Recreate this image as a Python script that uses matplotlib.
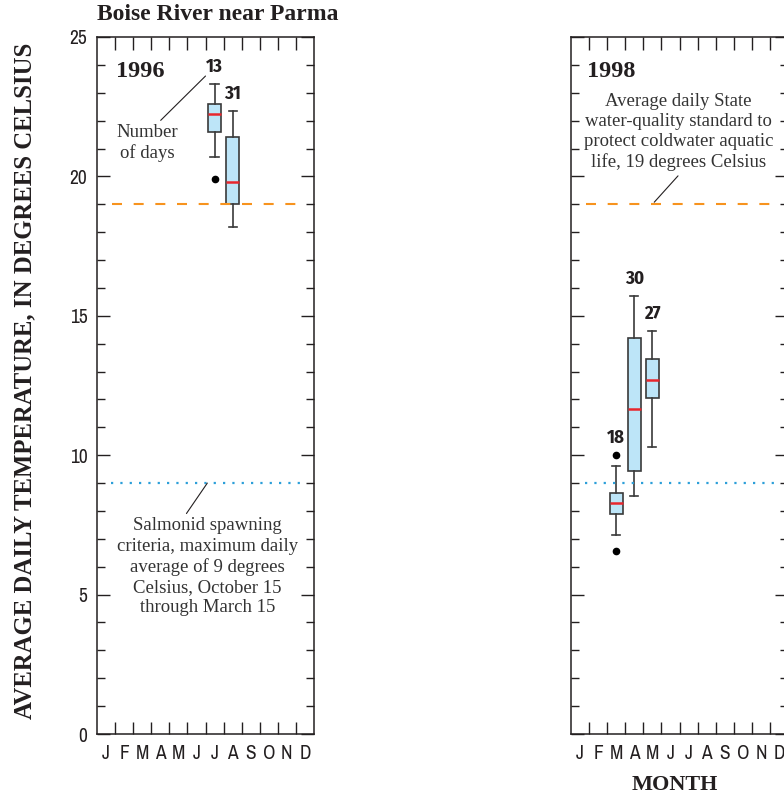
import matplotlib
matplotlib.use("Agg")
import matplotlib.pyplot as plt
from matplotlib.ticker import MultipleLocator, FixedLocator

# month index (0 = January) of each box, one list per panel
months_1996 = [6, 7]
months_1998 = [2, 3, 4]

# box statistics, degrees Celsius
whishi_1996 = [23.3, 22.35]
q3_1996 = [22.6, 21.4]
med_1996 = [22.25, 19.8]
q1_1996 = [21.6, 19.0]
whislo_1996 = [20.7, 18.2]
fliers_1996 = [[19.9], []]
ndays_1996 = [13, 31]

whishi_1998 = [9.6, 15.7, 14.45]
q3_1998 = [8.65, 14.2, 13.45]
med_1998 = [8.3, 11.65, 12.7]
q1_1998 = [7.9, 9.45, 12.05]
whislo_1998 = [7.15, 8.55, 10.3]
fliers_1998 = [[10.0, 6.55], [], []]
ndays_1998 = [18, 30, 27]

month_labels = ["J", "F", "M", "A", "M", "J", "J", "A", "S", "O", "N", "D"]
state_std = 19
salmonid = 9

SERIF = ["Liberation Serif", "DejaVu Serif"]
NARROW = ["Archivo Narrow", "Liberation Sans", "DejaVu Sans"]
NARROW_BOLD = ["Fira Sans Condensed", "Barlow Condensed", "DejaVu Sans"]
INK = "#231f20"

fig = plt.figure(figsize=(7.84, 7.96), dpi=100)


def make_panel(rect, months, whishi, q3, med, q1, whislo, fliers, ndays,
               year, year_x, ylabels):
    ax = fig.add_axes(rect)
    stats = []
    for i in range(len(months)):
        stats.append({"whishi": whishi[i], "q3": q3[i], "med": med[i],
                      "q1": q1[i], "whislo": whislo[i], "fliers": fliers[i]})
    pos = [m + 0.5 for m in months]
    ax.bxp(stats, positions=pos, widths=0.72, patch_artist=True,
           showfliers=True, capwidths=0.45,
           boxprops=dict(facecolor="#bde5f8", edgecolor="#3a3a3a", linewidth=1.2),
           medianprops=dict(color="#e8262d", linewidth=1.8),
           whiskerprops=dict(color="#3a3a3a", linewidth=1.2),
           capprops=dict(color="#3a3a3a", linewidth=1.2),
           flierprops=dict(marker="o", markerfacecolor="black",
                           markeredgecolor="black", markersize=4.5))
    for i in range(len(months)):
        top = max([whishi[i]] + fliers[i])
        ax.annotate(str(ndays[i]), (pos[i], top), xytext=(0, 6),
                    textcoords="offset points", ha="center", va="bottom",
                    fontsize=13.5, fontweight="bold", family=NARROW_BOLD,
                    color=INK)

    ax.plot([0.85, 11.1], [state_std, state_std], color="#f7931e",
            linewidth=1.5, dashes=(4.8, 5.6))
    ax.plot([0.8, 11.2], [salmonid, salmonid], color="#2c9fd9",
            linewidth=1.6, dashes=(1, 3.2))

    ax.set_xlim(0, 12)
    ax.set_ylim(0, 25)
    ax.set_xticks([m + 0.5 for m in range(12)])
    ax.set_xticklabels(month_labels, family=NARROW, fontsize=14, color=INK)
    ax.xaxis.set_minor_locator(FixedLocator(range(1, 12)))
    ax.tick_params(axis="x", which="major", length=0, pad=7)
    ax.tick_params(axis="x", which="minor", direction="in", length=9,
                   width=1.0, color=INK, bottom=True, top=True)
    ax.yaxis.set_major_locator(MultipleLocator(5))
    ax.yaxis.set_minor_locator(MultipleLocator(1))
    ax.tick_params(axis="y", which="major", direction="in", length=9.5,
                   width=1.0, color=INK, left=True, right=True,
                   labelleft=ylabels, labelsize=14, pad=7)
    ax.tick_params(axis="y", which="minor", direction="in", length=5.5,
                   width=1.0, color=INK, left=True, right=True)
    for lab in ax.get_yticklabels():
        lab.set_family(NARROW)
        lab.set_color(INK)
    for s in ax.spines.values():
        s.set_color(INK)
        s.set_linewidth(1.1)
    ax.text(year_x, 23.75, year, fontsize=17.5, fontweight="bold", family=SERIF,
            color=INK, va="center")
    return ax


ax1 = make_panel([97 / 784, 62 / 796, 217 / 784, 697 / 796], months_1996,
                 whishi_1996, q3_1996, med_1996, q1_1996, whislo_1996,
                 fliers_1996, ndays_1996, "1996", 1.05, True)
ax2 = make_panel([571 / 784, 62 / 796, 217 / 784, 697 / 796], months_1998,
                 whishi_1998, q3_1998, med_1998, q1_1998, whislo_1998,
                 fliers_1998, ndays_1998, "1998", 0.88, False)

# annotations, left panel
ax1.annotate("Number\nof days", xy=(6.0, 23.6), xytext=(2.8, 21.2),
             ha="center", va="center", fontsize=13.5, family=SERIF,
             color="#333333", linespacing=1.2,
             arrowprops=dict(arrowstyle="-", color=INK, lw=0.8,
                             shrinkA=1, shrinkB=0, relpos=(0.65, 1.0)))
ax1.annotate("Salmonid spawning\ncriteria, maximum daily\naverage of 9 degrees\n"
             "Celsius, October 15\nthrough March 15",
             xy=(6.1, salmonid), xytext=(6.1, 6.0), ha="center", va="center",
             fontsize=13.5, family=SERIF, color="#333333", linespacing=1.24,
             arrowprops=dict(arrowstyle="-", color=INK, lw=0.8,
                             shrinkA=1, shrinkB=0, relpos=(0.37, 1.0)))

# annotations, right panel
ax2.annotate("Average daily State\nwater-quality standard to\n"
             "protect coldwater aquatic\nlife, 19 degrees Celsius",
             xy=(4.5, state_std), xytext=(5.95, 21.6), ha="center",
             va="center", fontsize=13.5, family=SERIF, color="#333333",
             linespacing=1.24,
             arrowprops=dict(arrowstyle="-", color=INK, lw=0.8,
                             shrinkA=2, shrinkB=2, relpos=(0.52, 0.0)))

fig.text(97 / 784, 1 - 14 / 796, "Boise River near Parma", fontsize=17,
         fontweight="bold", family=SERIF, color=INK, ha="left", va="center")
fig.text(25 / 784, 1 - 381 / 796,
         "AVERAGE DAILY TEMPERATURE, IN DEGREES CELSIUS", rotation=90,
         fontsize=17.8, fontweight="bold", family=SERIF, color=INK,
         ha="center", va="center")
fig.text(675 / 784, 1 - 785 / 796, "MONTH", fontsize=16, fontweight="bold",
         family=SERIF, color=INK, ha="center", va="center")

plt.savefig("out.png", dpi=100)
plt.close()
